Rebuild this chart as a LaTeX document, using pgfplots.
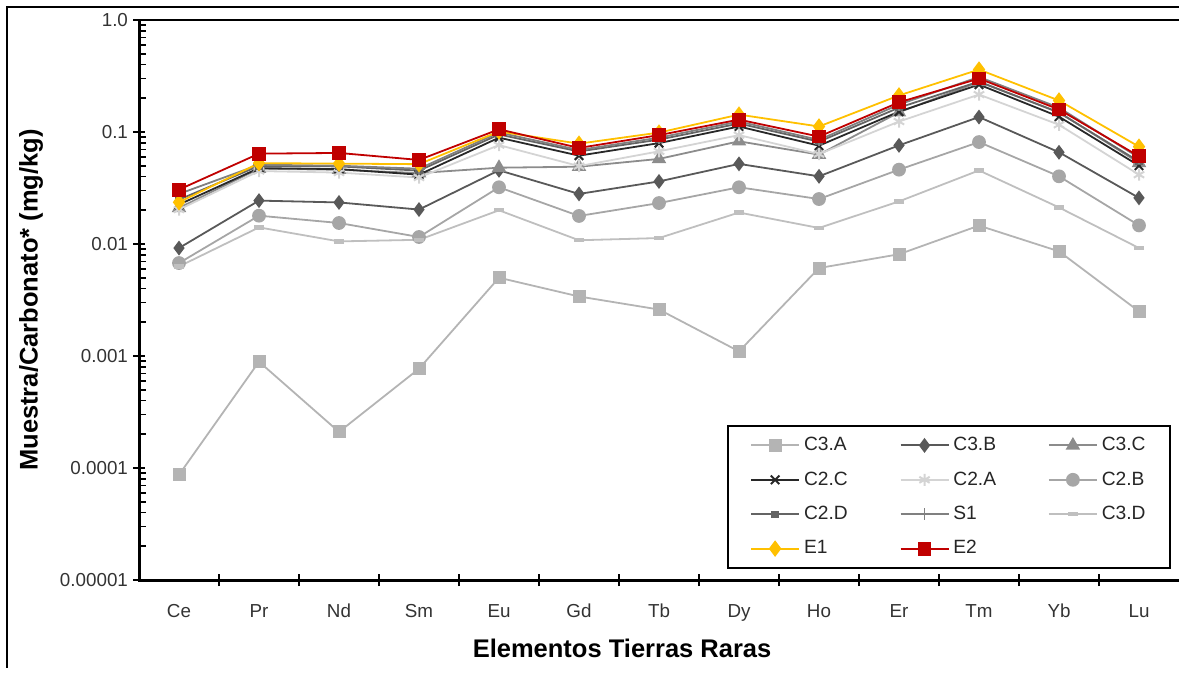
\documentclass[border=0pt]{standalone}
\usepackage{pgfplots}
\pgfplotsset{compat=1.18}
\usepackage{fontspec}
\setmainfont{Liberation Sans}
\definecolor{c3a}{RGB}{180,180,180}
\definecolor{c3b}{RGB}{89,89,89}
\definecolor{c3c}{RGB}{140,140,140}
\definecolor{c2c}{RGB}{40,40,40}
\definecolor{c2a}{RGB}{212,212,212}
\definecolor{c2b}{RGB}{166,166,166}
\definecolor{c2d}{RGB}{100,100,100}
\definecolor{cs1}{RGB}{128,128,128}
\definecolor{c3d}{RGB}{191,191,191}
\definecolor{ce1}{RGB}{255,192,0}
\definecolor{ce2}{RGB}{192,0,0}
\newcommand{\lO}[1]{\makebox[45.8pt][l]{#1}}
\newcommand{\lA}[1]{\makebox[45.3pt][l]{#1}}
\newcommand{\lB}[1]{\makebox[21pt][l]{#1}}
\begin{document}
\begin{tikzpicture}
\useasboundingbox (0,0) rectangle (589.5pt,339.5pt);
\draw[line width=1pt] (3.5pt,5.5pt) -- (3.5pt,336pt) -- (589.5pt,336pt);
\begin{axis}[
  at={(69.5pt,49.5pt)}, anchor=south west,
  scale only axis, width=520pt, height=280pt,
  xmin=-0.5, xmax=12.5,
  ymode=log, ymin=1e-5, ymax=1,
  axis line style={draw=none},
  clip=false,
  tick pos=left,
  tick align=inside,
  major tick length=6pt,
  minor tick length=3.5pt,
  xtick={0,...,12},
  xticklabels={Ce,Pr,Nd,Sm,Eu,Gd,Tb,Dy,Ho,Er,Tm,Yb,Lu},
  major x tick style={draw=none},
  extra x ticks={0.5,1.5,...,11.5},
  extra x tick labels={},
  extra x tick style={major x tick style={draw=black, line width=1.2pt, yshift=-3pt}},
  ytick={1e-5,1e-4,1e-3,1e-2,1e-1,1},
  yticklabels={0.00001,0.0001,0.001,0.01,0.1,1.0},
  minor ytick={2e-5,3e-5,4e-5,5e-5,6e-5,7e-5,8e-5,9e-5,2e-4,3e-4,4e-4,5e-4,6e-4,7e-4,8e-4,9e-4,2e-3,3e-3,4e-3,5e-3,6e-3,7e-3,8e-3,9e-3,2e-2,3e-2,4e-2,5e-2,6e-2,7e-2,8e-2,9e-2,0.2,0.3,0.4,0.5,0.6,0.7,0.8,0.9},
  major y tick style={xshift=-3pt, line width=1.2pt, black},
  minor y tick style={line width=0.8pt, black},
  /pgf/number format/assume math mode=true,
  ticklabel style={font=\fontsize{9.4}{11}\selectfont, text=black!80},
  xticklabel style={yshift=-8.5pt},
  yticklabel style={xshift=-2pt},
  xlabel={Elementos Tierras Raras},
  ylabel={Muestra/Carbonato* (mg/kg)},
  xlabel style={at={(axis description cs:0.4645,-0.1214)}, anchor=center, font=\bfseries\fontsize{12.75}{14}\selectfont},
  ylabel style={at={(axis description cs:-0.1038,0.5)}, anchor=center, font=\bfseries\fontsize{12.75}{14}\selectfont},
  legend columns=3,
  legend cell align=left,
  legend image code/.code={\draw[mark repeat=2,mark phase=2,#1] plot coordinates {(0pt,0pt)(12pt,0pt)(24pt,0pt)};},
  legend style={at={(axis description cs:0.5654,0.2768)}, anchor=north west,
    draw=black, line width=1.2pt, fill=white,
    font=\fontsize{9.6}{11}\selectfont, text=black!85,
    inner xsep=11pt, inner ysep=3.5pt, row sep=5pt,
    /tikz/every even column/.append style={column sep=0pt}},
  every axis plot/.append style={line width=0.9pt},
]
\addplot[c3a, mark=square*, mark size=2.8pt, mark options={solid, fill=c3a, draw=c3a}] coordinates {
(0,8.7e-5)(1,8.9e-4)(2,2.1e-4)(3,7.7e-4)(4,0.0050)(5,0.0034)(6,0.0026)(7,0.0011)(8,0.0061)(9,0.0081)(10,0.0146)(11,0.0086)(12,0.0025)};
\addlegendentry{\lO{C3.A}}
\addplot[c3b, mark=diamond*, mark size=3pt, mark options={solid, fill=c3b, draw=c3b}] coordinates {
(0,0.0092)(1,0.0244)(2,0.0235)(3,0.0203)(4,0.0455)(5,0.0280)(6,0.0362)(7,0.0519)(8,0.0402)(9,0.0760)(10,0.136)(11,0.0659)(12,0.0258)};
\addlegendentry{\lA{C3.B}}
\addplot[c3c, mark=triangle*, mark size=3.3pt, mark options={solid, fill=c3c, draw=c3c}] coordinates {
(0,0.021)(1,0.047)(2,0.046)(3,0.043)(4,0.048)(5,0.049)(6,0.0575)(7,0.0826)(8,0.0628)(9,0.150)(10,0.280)(11,0.150)(12,0.053)};
\addlegendentry{\lB{C3.C}}
\addplot[c2c, mark=x, mark size=3pt, mark options={solid, draw=c2c, line width=1pt}] coordinates {
(0,0.0225)(1,0.0476)(2,0.0466)(3,0.0416)(4,0.089)(5,0.0615)(6,0.0796)(7,0.112)(8,0.0755)(9,0.152)(10,0.265)(11,0.137)(12,0.050)};
\addlegendentry{\lO{C2.C}}
\addplot[c2a, mark=asterisk, mark size=3pt, mark options={solid, draw=c2a, line width=1pt}] coordinates {
(0,0.0203)(1,0.0448)(2,0.0434)(3,0.0392)(4,0.0764)(5,0.0496)(6,0.0672)(7,0.0938)(8,0.0635)(9,0.124)(10,0.216)(11,0.116)(12,0.0416)};
\addlegendentry{\lA{C2.A}}
\addplot[c2b, mark=*, mark size=3pt, mark options={solid, fill=c2b, draw=c2b}] coordinates {
(0,0.00676)(1,0.0179)(2,0.0154)(3,0.01155)(4,0.0321)(5,0.0178)(6,0.0232)(7,0.0321)(8,0.0252)(9,0.0461)(10,0.0813)(11,0.0402)(12,0.01466)};
\addlegendentry{\lB{C2.B}}
\addplot[c2d, mark=square*, mark size=1.4pt, mark options={solid, fill=c2d, draw=c2d}] coordinates {
(0,0.0249)(1,0.0498)(2,0.0493)(3,0.0452)(4,0.095)(5,0.067)(6,0.0855)(7,0.119)(8,0.082)(9,0.165)(10,0.282)(11,0.149)(12,0.0545)};
\addlegendentry{\lO{C2.D}}
\addplot[cs1, mark=+, mark size=3pt, mark options={solid, draw=cs1, line width=0.9pt}] coordinates {
(0,0.028)(1,0.051)(2,0.050)(3,0.047)(4,0.099)(5,0.069)(6,0.089)(7,0.124)(8,0.085)(9,0.176)(10,0.31)(11,0.165)(12,0.059)};
\addlegendentry{\lA{S1}}
\addplot[c3d, mark=-, mark size=2.6pt, mark options={solid, draw=c3d, line width=2.2pt}] coordinates {
(0,0.0063)(1,0.01407)(2,0.01055)(3,0.0109)(4,0.0200)(5,0.0108)(6,0.0113)(7,0.0191)(8,0.0139)(9,0.0240)(10,0.0454)(11,0.0212)(12,0.0092)};
\addlegendentry{\lB{C3.D}}
\addplot[ce1, mark=diamond*, mark size=3.4pt, mark options={solid, fill=ce1, draw=ce1}] coordinates {
(0,0.0236)(1,0.0527)(2,0.0522)(3,0.0516)(4,0.101)(5,0.0787)(6,0.0988)(7,0.143)(8,0.112)(9,0.212)(10,0.361)(11,0.191)(12,0.074)};
\addlegendentry{\lO{E1}}
\addplot[ce2, mark=square*, mark size=3pt, mark options={solid, fill=ce2, draw=ce2}] coordinates {
(0,0.0306)(1,0.0641)(2,0.0650)(3,0.0563)(4,0.1057)(5,0.0721)(6,0.0938)(7,0.129)(8,0.091)(9,0.184)(10,0.300)(11,0.159)(12,0.0607)};
\addlegendentry{\lA{E2}}
\draw[line width=1.5pt, black] (rel axis cs:0,1) -- (rel axis cs:0,0) -- (rel axis cs:1,0);
\draw[line width=1.2pt, black] (rel axis cs:0,1) -- (rel axis cs:1,1);
\end{axis}
\end{tikzpicture}
\end{document}
